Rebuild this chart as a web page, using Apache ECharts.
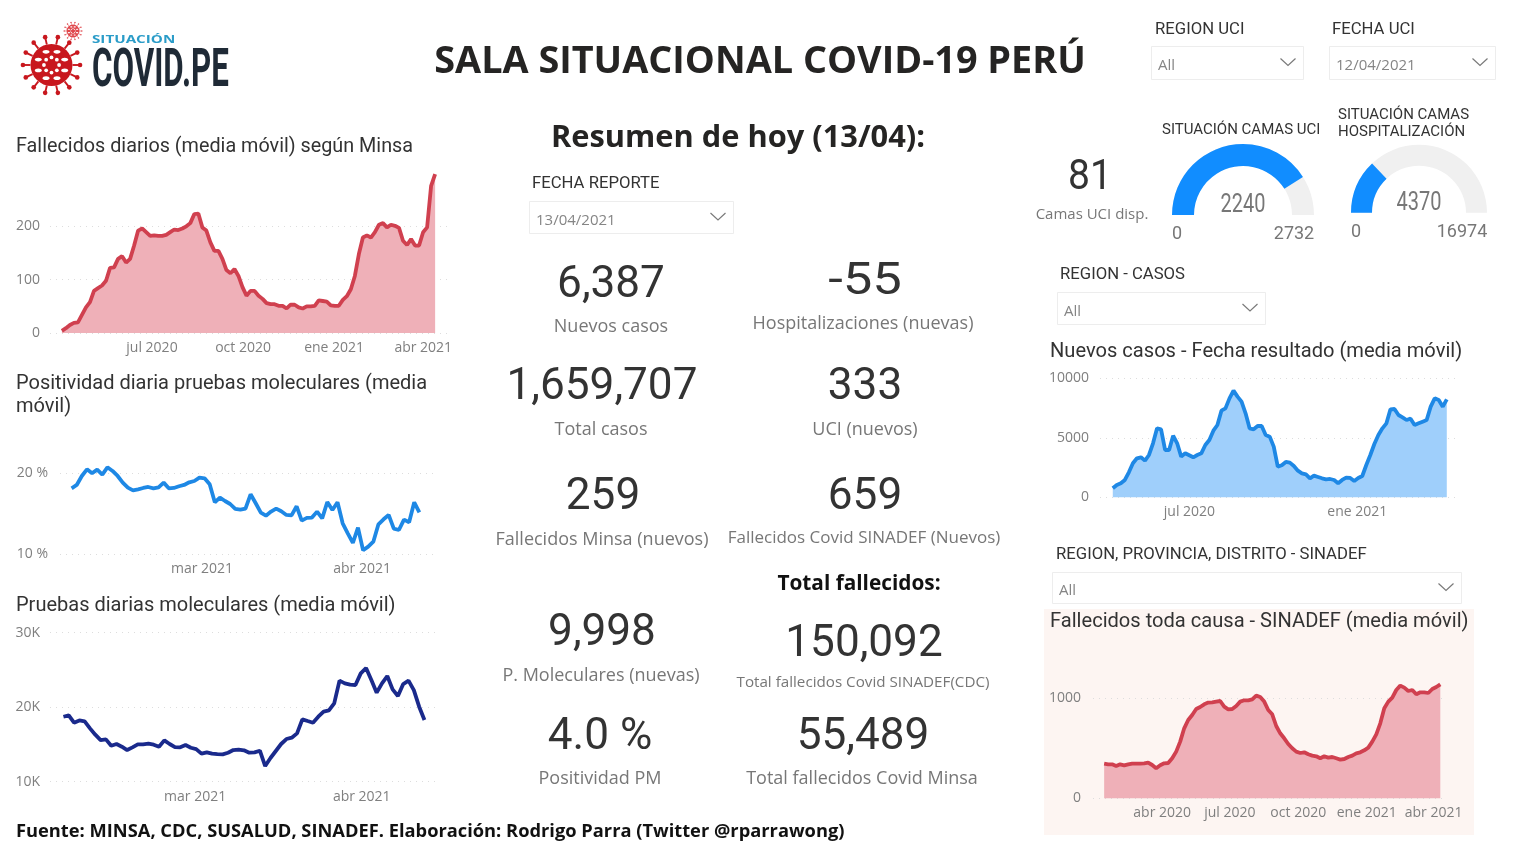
<!DOCTYPE html>
<html>
<head>
    <meta charset="utf-8">
    <script src="https://cdn.jsdelivr.net/npm/echarts@6/dist/echarts.min.js"></script>
    <title>Sala situacional COVID-19 Perú</title>
    <style>
        html, body { margin: 0; padding: 0; background: #fff; overflow: hidden; }
    </style>
</head>
<body>
    <div id="container" style="width:1513px;height:850px;"></div>
    <script>
    // Datos
    var fallecidosMinsa = [4,9,15,19,20,34,48,58,79,84,89,98,122,123,139,144,132,139,164,192,196,189,182,183,182,182,184,189,194,193,196,200,206,223,224,198,192,170,154,154,139,118,112,120,107,86,70,79,79,70,64,56,54,54,51,51,46,53,53,48,46,50,50,51,61,60,59,52,51,51,62,69,82,107,148,179,183,179,189,203,206,198,203,201,197,173,165,176,164,164,189,198,276,298];
    var positividad = [18.15,18.56,19.67,20.49,20.0,20.45,19.84,20.74,20.29,19.67,18.85,18.23,17.9,18.02,18.19,18.31,18.15,18.27,18.85,18.15,18.19,18.4,18.56,18.89,19.05,19.47,19.38,18.64,16.42,17.0,16.58,16.21,15.6,15.51,15.64,17.41,16.3,15.14,14.77,15.27,15.64,15.31,14.86,14.81,15.93,14.16,14.49,14.53,15.27,14.44,16.46,15.47,16.42,13.83,12.59,11.4,13.29,10.49,10.95,11.56,13.7,14.32,14.86,13.17,13.0,14.28,13.95,16.42,15.19];
    var pruebas = [18720,18900,17920,18230,18100,17160,16310,15590,15680,14830,15060,14700,14250,14610,15010,15010,15100,14970,14700,15550,15060,14650,14610,14920,14560,14380,13760,13940,13760,13710,13670,13890,14250,14300,14210,13890,13940,14160,12100,13180,14120,15060,15730,15910,16490,18370,18140,17920,18720,19400,19570,20510,23560,23200,23020,22980,24540,25260,23650,21950,23200,24180,22390,21500,23110,23560,22300,20070,18280];
    var nuevosCasos = [756,1036,1176,1456,2100,2856,3276,3360,3080,3556,4536,5796,5712,3976,3976,5180,4536,3416,3696,3528,3360,3556,3696,4396,4816,5600,6076,7280,7476,8316,8960,8456,8036,7056,5796,5712,5992,5992,5236,5096,4256,2576,2688,2968,2912,2632,2240,2016,1932,1596,1820,1708,1596,1512,1540,1456,1176,1456,1652,1624,1372,1624,1792,2716,3556,4480,5236,5796,6216,7392,7420,6916,6720,6496,6608,6076,6216,6356,6496,7616,8316,8176,7616,8232];
    var sinadef = [347,340,340,323,340,330,340,347,347,347,350,357,333,300,330,350,353,400,467,567,700,783,833,893,913,940,957,960,967,973,917,890,893,923,967,980,980,990,1027,1013,967,883,840,723,650,600,543,500,467,453,460,440,427,420,400,420,407,413,400,387,393,413,427,450,460,480,507,567,640,750,900,967,1007,1083,1127,1107,1073,1083,1040,1060,1060,1053,1093,1113,1140];

    var ticksMinsa = ['2020-07-01', '2020-10-01', '2021-01-01', '2021-04-01'];
    var ticksRecientes = ['2021-03-01', '2021-04-01'];
    var ticksCasos = ['2020-07-01', '2021-01-01'];
    var ticksSinadef = ['2020-04-01', '2020-07-01', '2020-10-01', '2021-01-01', '2021-04-01'];
    var meses = ['ene', 'feb', 'mar', 'abr', 'may', 'jun', 'jul', 'ago', 'sep', 'oct', 'nov', 'dic'];

    var camasUci = [2240, 2732];
    var camasHosp = [4370, 16974];

    var FUENTE = 'Roboto, sans-serif';
    var SEGOE = '"Open Sans", sans-serif';
    var ROJO = '#D0404F', ROJO_AREA = '#EFB0B8', AZUL = '#1E88E5', AZUL_AREA = '#9FCFFB';

    // fecha a milisegundos, con hora opcional
    function ms(d) {
        return +new Date(d.length > 10 ? d : d + 'T00:00:00');
    }
    // reparte n fechas entre inicio y fin
    function fechas(inicio, fin, valores) {
        var a = ms(inicio), b = ms(fin);
        return valores.map(function (v, i) {
            return [a + (b - a) * i / (valores.length - 1), v];
        });
    }
    function plano(v) { return String(v); }

    var graficos = [
        { datos: fechas('2020-04-01', '2021-04-13', fallecidosMinsa), left: 50, right: 448, top: 173, height: 160, ymin: 0, ymax: 300, yticks: [0, 100, 200], xmin: '2020-03-20', xmax: '2021-04-26', ticks: ticksMinsa, color: ROJO, area: ROJO_AREA, fmt: plano, margen: 10 },
        { datos: fechas('2021-02-03T18:00:00', '2021-04-12T02:00:00', positividad), left: 60, right: 437, top: 465.2, height: 89.1, ymin: 10, ymax: 21, yticks: [10, 20], xmin: '2021-02-01T12:00:00', xmax: '2021-04-15T12:00:00', ticks: ticksRecientes, color: AZUL, fmt: '{value} %', margen: 12 },
        { datos: fechas('2021-02-04T12:00:00', '2021-04-12T16:00:00', pruebas), left: 50, right: 437, top: 632.7, height: 149, ymin: 10000, ymax: 30000, yticks: [10000, 20000, 30000], xmin: '2021-02-02', xmax: '2021-04-15', ticks: ticksRecientes, color: '#1A2A8C', fmt: function (v) { return v / 1000 + 'K'; }, margen: 10 },
        { datos: fechas('2020-04-08', '2021-04-09', nuevosCasos), left: 1100, right: 1455, top: 378.3, height: 119, ymin: 0, ymax: 10000, yticks: [0, 5000, 10000], xmin: '2020-03-25', xmax: '2021-04-18', ticks: ticksCasos, color: AZUL, area: AZUL_AREA, fmt: plano, margen: 11 },
        { datos: fechas('2020-01-14', '2021-04-10', sinadef), left: 1093, right: 1447, top: 678.3, height: 120, ymin: 0, ymax: 1200, yticks: [0, 1000], xmin: '2019-12-30', xmax: '2021-04-19', ticks: ticksSinadef, color: ROJO, area: ROJO_AREA, fmt: plano, margen: 12 }
    ];

    var grid = [], xAxis = [], yAxis = [], series = [];
    graficos.forEach(function (g, i) {
        grid.push({ left: g.left, top: g.top, width: g.right - g.left, height: g.height });
        var valoresX = g.ticks.map(ms);
        // eje de valores con milisegundos: customValues falla en el eje time
        xAxis.push({
            type: 'value', gridIndex: i,
            min: ms(g.xmin), max: ms(g.xmax),
            axisLine: { show: false }, splitLine: { show: false },
            axisTick: { show: false, customValues: valoresX },
            axisLabel: {
                customValues: valoresX, color: '#7F7F7F', fontSize: 14, fontFamily: SEGOE, margin: 8, hideOverlap: false,
                formatter: function (v) { var d = new Date(v); return meses[d.getMonth()] + ' ' + d.getFullYear(); }
            }
        });
        yAxis.push({
            type: 'value', gridIndex: i, min: g.ymin, max: g.ymax,
            axisLine: { show: false },
            axisTick: { show: false, customValues: g.yticks },
            axisLabel: { customValues: g.yticks, color: '#7F7F7F', fontSize: 14, fontFamily: SEGOE, margin: g.margen, formatter: g.fmt },
            splitLine: { show: true, lineStyle: { color: '#DDDDDD', type: [1, 5], width: 1.2 } }
        });
        var s = {
            type: 'line', xAxisIndex: i, yAxisIndex: i, data: g.datos, showSymbol: false, silent: true,
            lineStyle: { color: g.color, width: 3.8 }, itemStyle: { color: g.color }, clip: false
        };
        if (g.area) s.areaStyle = { color: g.area, opacity: 1 };
        series.push(s);
    });

    // medidores de camas
    function medidor(par, cx, cy, r, ancho) {
        return {
            type: 'gauge', center: [cx, cy], radius: r, startAngle: 180, endAngle: 0, min: 0, max: par[1], silent: true,
            axisLine: { lineStyle: { width: ancho, color: [[1, '#F0F0F0']] } },
            progress: { show: true, width: ancho, itemStyle: { color: '#118DFF' } },
            pointer: { show: false }, anchor: { show: false }, axisTick: { show: false }, splitLine: { show: false }, axisLabel: { show: false }, title: { show: false },
            detail: { show: false },
            data: [{ value: par[0] }]
        };
    }
    series.push(medidor(camasUci, 1243, 215, 71, 22));
    series.push(medidor(camasHosp, 1419, 212.7, 68, 21));

    // textos: y es el centro visual de la linea
    function texto(x, y, str, size, color, align, weight, font, extra) {
        var el = {
            type: 'text', x: x, y: y + size * 0.1, silent: true,
            style: { text: str, fill: color, textAlign: align || 'left', textVerticalAlign: 'middle', font: (weight || 'normal') + ' ' + size + 'px ' + (font || FUENTE) }
        };
        for (var k in extra) el[k] = extra[k];
        return el;
    }
    // selector desplegable
    function selector(x, y, w, h, etiqueta, lx, ly, valor) {
        var cx = x + w - 15, cy = y + h / 2;
        return [
            texto(lx, ly, etiqueta, 16.7, '#333333'),
            { type: 'rect', shape: { x: x + 0.5, y: y + 0.5, width: w, height: h }, style: { fill: '#fff', stroke: '#EDEDED', lineWidth: 1 }, silent: true },
            texto(x + 7, cy + 2, valor, 15, '#858585', 'left', 'normal', SEGOE),
            { type: 'polyline', shape: { points: [[cx - 7.5, cy - 4], [cx, cy + 3], [cx + 7.5, cy - 4]] }, style: { fill: 'none', stroke: '#7A7A7A', lineWidth: 1.2 }, silent: true }
        ];
    }
    // virus del logo
    function virus(cx, cy, r, color) {
        var lista = [], n = 14, i;
        for (i = 0; i < n; i++) {
            var a = i * 2 * Math.PI / n;
            var x1 = cx + Math.cos(a) * r, y1 = cy + Math.sin(a) * r;
            var x2 = cx + Math.cos(a) * r * 1.36, y2 = cy + Math.sin(a) * r * 1.36;
            lista.push({ type: 'line', shape: { x1: x1, y1: y1, x2: x2, y2: y2 }, style: { stroke: color, lineWidth: r * 0.09 }, silent: true });
            lista.push({ type: 'circle', shape: { cx: x2, cy: y2, r: r * 0.11 }, style: { fill: color }, silent: true });
        }
        lista.push({ type: 'circle', shape: { cx: cx, cy: cy, r: r }, style: { fill: color }, silent: true });
        for (i = 0; i < 8; i++) {
            var b = (i + 0.5) * 2 * Math.PI / 8;
            lista.push({ type: 'ellipse', shape: { cx: cx + Math.cos(b) * r * 0.68, cy: cy + Math.sin(b) * r * 0.68, rx: r * 0.17, ry: r * 0.09 }, style: { fill: '#fff' }, silent: true });
            var c = i * 2 * Math.PI / 8;
            lista.push({ type: 'circle', shape: { cx: cx + Math.cos(c) * r * 0.36, cy: cy + Math.sin(c) * r * 0.36, r: r * 0.09 }, style: { fill: '#fff' }, silent: true });
        }
        return lista;
    }

    var GRIS = '#777777', NEGRO = '#333333';
    // valor, x, y, etiqueta, x, y, tamano etiqueta, escala horizontal
    var kpis = [
        ['6,387', 611, 281, 'Nuevos casos', 611, 325, 18, 0.98],
        ['-55', 865, 278, 'Hospitalizaciones (nuevas)', 863, 322, 18, 1.17],
        ['1,659,707', 602, 383, 'Total casos', 601, 428, 18, 0.98],
        ['333', 865, 383, 'UCI (nuevos)', 865, 428, 18, 0.98],
        ['259', 603, 493, 'Fallecidos Minsa (nuevos)', 602, 538, 18, 0.98],
        ['659', 865, 493, 'Fallecidos Covid SINADEF (Nuevos)', 864, 536, 17, 0.98],
        ['9,998', 602, 629, 'P. Moleculares (nuevas)', 601, 674, 18, 0.98],
        ['150,092', 864, 640, 'Total fallecidos Covid SINADEF(CDC)', 863, 681, 15.2, 0.98],
        ['4.0 %', 600, 733, 'Positividad PM', 600, 777, 18, 0.98],
        ['55,489', 863, 733, 'Total fallecidos Covid Minsa', 862, 777, 18, 0.98]
    ];

    var elementos = [
        { type: 'rect', z: -1, shape: { x: 1044, y: 609, width: 430, height: 226 }, style: { fill: '#FDF5F2' }, silent: true },
        texto(760, 58, 'SALA SITUACIONAL COVID-19 PERÚ', 37.8, '#252423', 'center', 'bold', SEGOE),
        texto(738, 135.5, 'Resumen de hoy (13/04):', 30.8, '#252423', 'center', 'bold', SEGOE),
        texto(859, 582, 'Total fallecidos:', 20.8, '#111111', 'center', 'bold', SEGOE),
        texto(16, 830, 'Fuente: MINSA, CDC, SUSALUD, SINADEF. Elaboración: Rodrigo Parra (Twitter @rparrawong)', 18.3, '#111111', 'left', 'bold', SEGOE),
        texto(16, 145, 'Fallecidos diarios (media móvil) según Minsa', 19.8, NEGRO),
        texto(16, 382, 'Positividad diaria pruebas moleculares (media', 20, NEGRO),
        texto(16, 405, 'móvil)', 20, NEGRO),
        texto(16, 604, 'Pruebas diarias moleculares (media móvil)', 20, NEGRO),
        texto(1050, 350, 'Nuevos casos - Fecha resultado (media móvil)', 20.1, NEGRO),
        texto(1050, 620, 'Fallecidos toda causa - SINADEF (media móvil)', 20.1, NEGRO),
        texto(1090, 174, '81', 42, NEGRO, 'center', 'normal', FUENTE, { scaleX: 0.93 }),
        texto(1092, 213, 'Camas UCI disp.', 15, GRIS, 'center', 'normal', SEGOE),
        texto(1162, 129, 'SITUACIÓN CAMAS UCI', 15, NEGRO),
        texto(1338, 114, 'SITUACIÓN CAMAS', 15, NEGRO),
        texto(1338, 131, 'HOSPITALIZACIÓN', 15, NEGRO),
        texto(1243, 203, String(camasUci[0]), 25, GRIS, 'center', 'normal', FUENTE, { scaleX: 0.8 }),
        texto(1419, 201, String(camasHosp[0]), 25, GRIS, 'center', 'normal', FUENTE, { scaleX: 0.8 }),
        texto(1177, 233, '0', 18, GRIS, 'center', 'normal', FUENTE),
        texto(1294, 233, String(camasUci[1]), 18, GRIS, 'center', 'normal', FUENTE),
        texto(1356, 231, '0', 18, GRIS, 'center', 'normal', FUENTE),
        texto(1462, 231, String(camasHosp[1]), 18, GRIS, 'center', 'normal', FUENTE),
        // logo
        texto(92, 39, 'SITUACIÓN', 11, '#2A9CC8', 'left', 'bold', SEGOE, { scaleX: 1.38 }),
        texto(92, 67, 'COVID.PE', 54, '#1F2A36', 'left', 'bold', FUENTE, { scaleX: 0.58 })
    ];
    elementos = elementos.concat(virus(51.5, 65, 21, '#C8171E'), virus(73, 31, 6.5, '#E0474C'));
    kpis.forEach(function (k) {
        elementos.push(texto(k[1], k[2], k[0], 45, NEGRO, 'center', 'normal', FUENTE, { scaleX: k[7] }));
        elementos.push(texto(k[4], k[5], k[3], k[6], GRIS, 'center', 'normal', SEGOE));
    });
    elementos = elementos.concat(
        selector(1151, 46, 152, 33, 'REGION UCI', 1155, 28, 'All'),
        selector(1329, 46, 166, 33, 'FECHA UCI', 1332, 28, '12/04/2021'),
        selector(529, 201, 204, 32, 'FECHA REPORTE', 532, 182, '13/04/2021'),
        selector(1057, 292, 208, 32, 'REGION - CASOS', 1060, 273, 'All'),
        selector(1052, 572, 409, 31, 'REGION, PROVINCIA, DISTRITO - SINADEF', 1056, 553, 'All')
    );

    var myChart = echarts.init(document.getElementById('container'));
    myChart.setOption({
        animation: false,
        backgroundColor: '#ffffff',
        grid: grid, xAxis: xAxis, yAxis: yAxis, series: series,
        graphic: { elements: elementos }
    });
    </script>
</body>
</html>
